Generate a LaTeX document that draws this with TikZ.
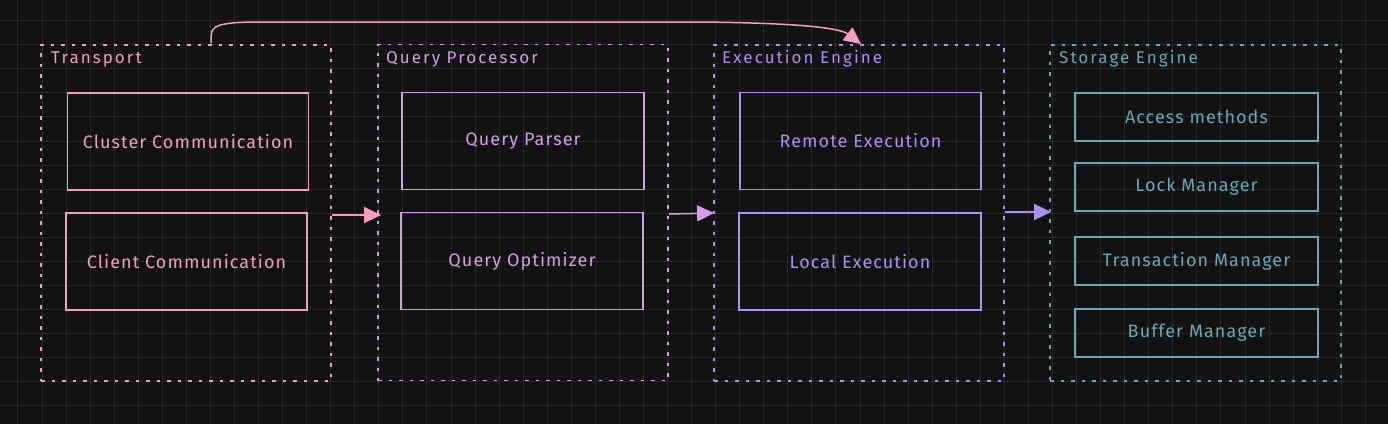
\documentclass[tikz,border=0pt]{standalone}
\usepackage{fontspec}
\setmainfont{Fira Sans}
\newfontfamily\compfont[LetterSpace=6]{Fira Sans}
\newfontfamily\titlefont[LetterSpace=12]{Fira Sans}
\usetikzlibrary{arrows.meta,calc}
\definecolor{bg}{HTML}{121212}
\definecolor{gridc}{HTML}{272727}
\definecolor{cpink}{HTML}{F29EBD}
\definecolor{cpurple}{HTML}{D69CE9}
\definecolor{cviolet}{HTML}{AA90F4}
\definecolor{cteal}{HTML}{68A8B6}
\tikzset{
  container/.style={draw=#1, line width=1.8pt, dash pattern=on 3.5pt off 7pt, minimum width=290pt, minimum height=336pt, inner sep=0pt},
  comp/.style={draw=#1, text=#1, line width=1.6pt, minimum width=241pt, minimum height=97pt, inner sep=0pt, font=\compfont\fontsize{18}{20}\selectfont},
  scomp/.style={draw=#1, text=#1, line width=1.6pt, minimum width=243pt, minimum height=48pt, inner sep=0pt, font=\compfont\fontsize{18}{20}\selectfont},
  ctitle/.style={text=#1, anchor=base west, inner sep=0pt, font=\titlefont\fontsize{17}{19}\selectfont},
  flow/.style={draw=#1, line width=1.5pt, -{Triangle[length=17pt,width=16pt,fill=#1]}},
}
\begin{document}
\begin{tikzpicture}[x=1pt,y=-1pt]
\fill[bg] (0,0) rectangle (1388,424);
\useasboundingbox (0,0) rectangle (1388,424);
\foreach \i in {0,...,58} {\draw[gridc, line width=1pt] ({17.94+24.06*\i},0) -- ({17.94+24.06*\i},424);}
\foreach \j in {0,...,18} {\draw[gridc, line width=1pt] (0,{-3.36+24.06*\j}) -- (1388,{-3.36+24.06*\j});}

% containers
\node[container=cpink] (T) at (186,213) {};
\node[container=cpurple] (QP) at (523,212.5) {};
\node[container=cviolet] (EE) at (859,213) {};
\node[container=cteal, minimum width=291pt] (SE) at (1195.5,213) {};

\node[ctitle=cpink] (Tl) at (51,63) {Transport};
\node[ctitle=cpurple] (QPl) at (386,63) {Query Processor};
\node[ctitle=cviolet] (EEl) at (722,63) {Execution Engine};
\node[ctitle=cteal] (SEl) at (1059,63) {Storage Engine};

% components
\node[comp=cpink] (cc) at (188,141.5) {Cluster Communication};
\node[comp=cpink] (cl) at (186.5,261.5) {Client Communication};
\node[comp=cpurple, minimum width=242pt] (qpa) at (523,141) {Query Parser};
\node[comp=cpurple, minimum width=242pt] (qop) at (522,261) {Query Optimizer};
\node[comp=cviolet] (re) at (860.5,141) {Remote Execution};
\node[comp=cviolet, minimum width=242pt] (le) at (860,261.5) {Local Execution};
\node[scomp=cteal] (am) at (1196.5,117) {Access methods};
\node[scomp=cteal] (lm) at (1196.5,187) {Lock Manager};
\node[scomp=cteal] (tm) at (1196.5,261) {Transaction Manager};
\node[scomp=cteal] (bm) at (1196.5,333) {Buffer Manager};

% connectors
\draw[flow=cpink] ($(T.east)+(0,2)$) -- ($(QP.west)+(4,2.5)$);
\draw[flow=cpurple] ($(QP.east)+(0,1.5)$) -- ($(EE.west)+(1,0)$);
\draw[flow=cviolet] ($(EE.east)+(0,-1)$) -- ($(SE.west)+(2,-1)$);
\draw[flow=cpink] ($(T.north)+(25,-1)$) .. controls +(1,-14) and (205,22) .. (260,22) -- (700,22) .. controls (800,23) and (840,28) .. ($(EE.north)+(2,0)$);
\end{tikzpicture}
\end{document}
